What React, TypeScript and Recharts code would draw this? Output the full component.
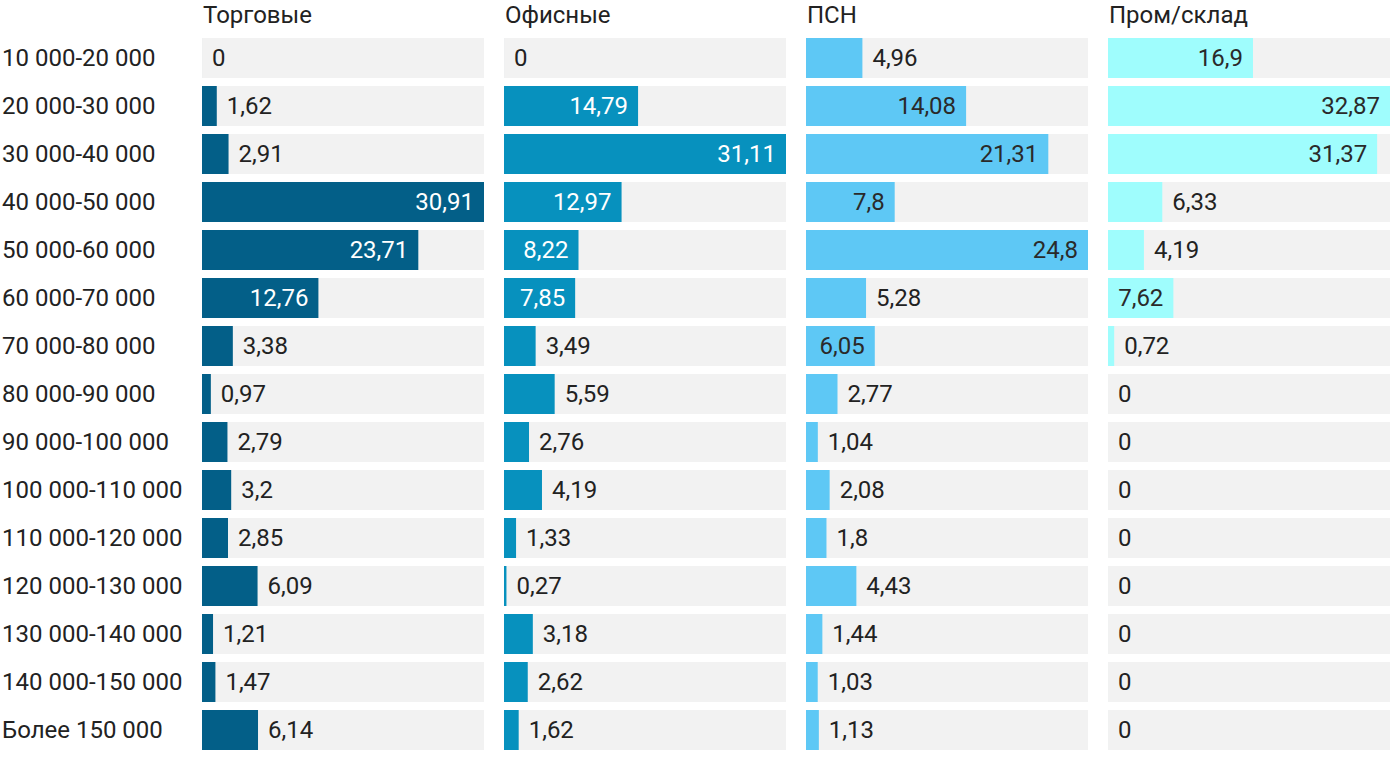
import React from 'react';
import { BarChart, Bar, XAxis, YAxis, LabelList } from 'recharts';

const categories = [
  '10 000-20 000', '20 000-30 000', '30 000-40 000', '40 000-50 000', '50 000-60 000',
  '60 000-70 000', '70 000-80 000', '80 000-90 000', '90 000-100 000', '100 000-110 000',
  '110 000-120 000', '120 000-130 000', '130 000-140 000', '140 000-150 000', 'Более 150 000',
];

const titles = ['Торговые', 'Офисные', 'ПСН', 'Пром/склад'];

const retail = [0, 1.62, 2.91, 30.91, 23.71, 12.76, 3.38, 0.97, 2.79, 3.2, 2.85, 6.09, 1.21, 1.47, 6.14];
const office = [0, 14.79, 31.11, 12.97, 8.22, 7.85, 3.49, 5.59, 2.76, 4.19, 1.33, 0.27, 3.18, 2.62, 1.62];
const psn = [4.96, 14.08, 21.31, 7.8, 24.8, 5.28, 6.05, 2.77, 1.04, 2.08, 1.8, 4.43, 1.44, 1.03, 1.13];
const industrial = [16.9, 32.87, 31.37, 6.33, 4.19, 7.62, 0.72, 0, 0, 0, 0, 0, 0, 0, 0];

const seriesList = [retail, office, psn, industrial];
const barColors = ['#035f88', '#0791be', '#5ec8f5', '#9ffdfd'];
const insideTextColors = ['#ffffff', '#ffffff', '#2a2a2a', '#2a2a2a'];

const FONT = 'Roboto, sans-serif';
const FS = 24;
const DY = 8;
const TEXT = '#222222';
const CH_H = 766;
const MARGIN = { top: 34, bottom: 12, left: 0, right: 0 };
const PANEL_W = 282;
const panelLeft = [202, 504, 806, 1108];

const fmt = (v: number) => String(v).replace('.', ',');

const makeLabel = (insideColor: string) => (props: any) => {
  const x = Number(props.x);
  const y = Number(props.y);
  const width = Number(props.width) || 0;
  const height = Number(props.height);
  const value = Number(props.value);
  const inside = width >= 64;
  const tx = inside ? x + width - 10 : x + width + 10;
  return (
    <text
      x={tx}
      y={y + height / 2}
      dy={DY}
      textAnchor={inside ? 'end' : 'start'}
      fill={inside ? insideColor : TEXT}
      fontSize={FS}
      fontFamily={FONT}
    >
      {fmt(value)}
    </text>
  );
};

const CatTick = (props: any) => {
  const { y, payload } = props;
  return (
    <text x={2} y={y} dy={DY} textAnchor="start" fill={TEXT} fontSize={FS} fontFamily={FONT}>
      {payload.value}
    </text>
  );
};

export default function App() {
  return (
    <div style={{ position: 'absolute', left: 0, top: 0, width: 1400, height: 766, background: '#ffffff', overflow: 'hidden' }}>
      {seriesList.map((series, i) => {
        const data = categories.map((c, k) => ({ cat: c, v: series[k] }));
        const first = i === 0;
        const left = first ? 0 : panelLeft[i];
        const width = first ? panelLeft[0] + PANEL_W : PANEL_W;
        return (
          <div key={i} style={{ position: 'absolute', left, top: 0 }}>
            <BarChart
              width={width}
              height={CH_H}
              data={data}
              layout="vertical"
              margin={MARGIN}
              style={{ overflow: 'visible' }}
            >
              <XAxis type="number" domain={[0, 'dataMax']} hide />
              <YAxis
                type="category"
                dataKey="cat"
                width={first ? panelLeft[0] : 0}
                hide={!first}
                axisLine={false}
                tickLine={false}
                interval={0}
                tick={<CatTick />}
              />
              <Bar
                dataKey="v"
                fill={barColors[i]}
                barSize={40}
                minPointSize={0.01}
                background={{ fill: '#f2f2f2' }}
                isAnimationActive={false}
              >
                <LabelList dataKey="v" content={makeLabel(insideTextColors[i])} />
              </Bar>
            </BarChart>
          </div>
        );
      })}
      <svg width={1400} height={34} style={{ position: 'absolute', left: 0, top: 0 }}>
        {titles.map((t, i) => (
          <text key={t} x={panelLeft[i] + 1} y={23} fill={TEXT} fontSize={FS} fontFamily={FONT}>
            {t}
          </text>
        ))}
      </svg>
    </div>
  );
}
